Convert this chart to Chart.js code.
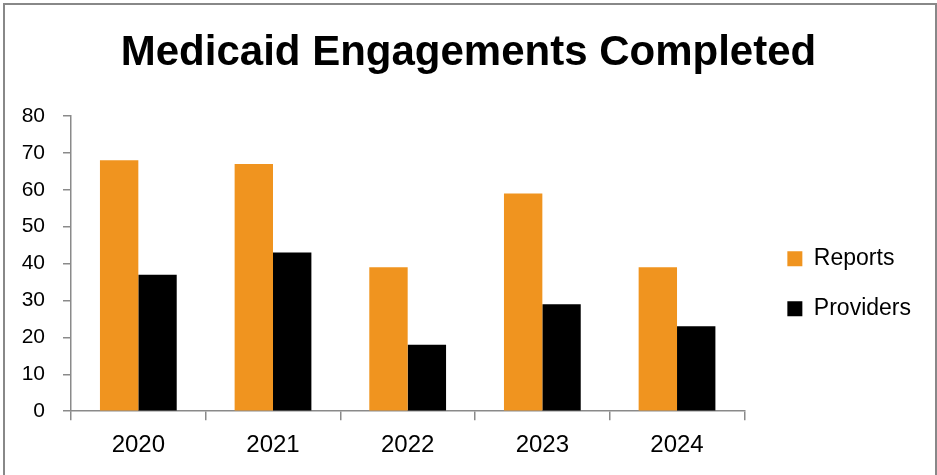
<!DOCTYPE html>
<html>
<head>
<meta charset="utf-8">
<script src="https://cdn.jsdelivr.net/npm/chart.js@4/dist/chart.umd.min.js"></script>
<style>
html, body { margin: 0; padding: 0; background: #ffffff; }
#wrap { position: relative; width: 937px; height: 475px; }
</style>
</head>
<body>
<div id="wrap"><canvas id="c" width="937" height="475"></canvas></div>
<script>
const categories = ['2020', '2021', '2022', '2023', '2024'];
const reports = [68, 67, 39, 59, 39];
const providers = [37, 43, 18, 29, 23];
const seriesNames = ['Reports', 'Providers'];
const yTicks = [0, 10, 20, 30, 40, 50, 60, 70, 80];
const chartTitle = 'Medicaid Engagements Completed';

const axisGray = '#8a8a8a';

const frame = {
  id: 'frame',
  beforeDraw(chart) {
    const ctx = chart.ctx;
    ctx.save();
    ctx.fillStyle = '#ffffff';
    ctx.fillRect(0, 0, chart.width, chart.height);
    ctx.strokeStyle = '#888888';
    ctx.lineWidth = 2;
    ctx.beginPath();
    ctx.moveTo(4, chart.height);
    ctx.lineTo(4, 4);
    ctx.lineTo(936, 4);
    ctx.lineTo(936, chart.height);
    ctx.stroke();
    ctx.restore();
  }
};

new Chart(document.getElementById('c'), {
  type: 'bar',
  data: {
    labels: categories,
    datasets: [
      { label: seriesNames[0], data: reports, backgroundColor: '#F0941F', borderWidth: 0 },
      { label: seriesNames[1], data: providers, backgroundColor: '#000000', borderWidth: 0 }
    ]
  },
  options: {
    responsive: false,
    animation: false,
    devicePixelRatio: 1,
    layout: { padding: { left: 16, right: 16, top: 0, bottom: 4 } },
    datasets: { bar: { categoryPercentage: 0.57, barPercentage: 1.0 } },
    plugins: {
      title: {
        display: true,
        text: chartTitle,
        color: '#000000',
        font: { family: "'Liberation Sans', sans-serif", size: 42, weight: 'bold', lineHeight: 1.2 },
        padding: { top: 28, bottom: 37.6 }
      },
      legend: {
        position: 'right',
        fullSize: false,
        align: 'center',
        maxWidth: 260,
        title: { display: true, text: '', padding: 13, font: { size: 12, lineHeight: 1.2 } },
        labels: {
          boxWidth: 15,
          boxHeight: 15,
          padding: 27,
          color: '#000000',
          font: { family: "'Liberation Sans', sans-serif", size: 23 }
        }
      },
      tooltip: { enabled: false }
    },
    scales: {
      x: {
        grid: { display: true, drawOnChartArea: false, drawTicks: true, tickLength: 9, color: axisGray, lineWidth: 1.5, offset: true },
        border: { display: true, color: axisGray, width: 1.5 },
        ticks: { color: '#000000', padding: 11, font: { family: "'Liberation Sans', sans-serif", size: 24 } }
      },
      y: {
        min: 0,
        max: 80,
        afterBuildTicks(s) { s.ticks = yTicks.map(v => ({ value: v })); },
        afterFit(s) { s.width = 55; },
        grid: { display: true, drawOnChartArea: false, drawTicks: true, tickLength: 8, color: axisGray, lineWidth: 1.5 },
        border: { display: true, color: axisGray, width: 1.5 },
        ticks: { color: '#000000', padding: 18, font: { family: "'Liberation Sans', sans-serif", size: 21 } }
      },
      y2: {
        position: 'right',
        display: true,
        grid: { display: false },
        border: { display: false },
        ticks: { display: false },
        afterFit(s) { s.width = 16; }
      }
    }
  },
  plugins: [frame]
});
</script>
</body>
</html>
